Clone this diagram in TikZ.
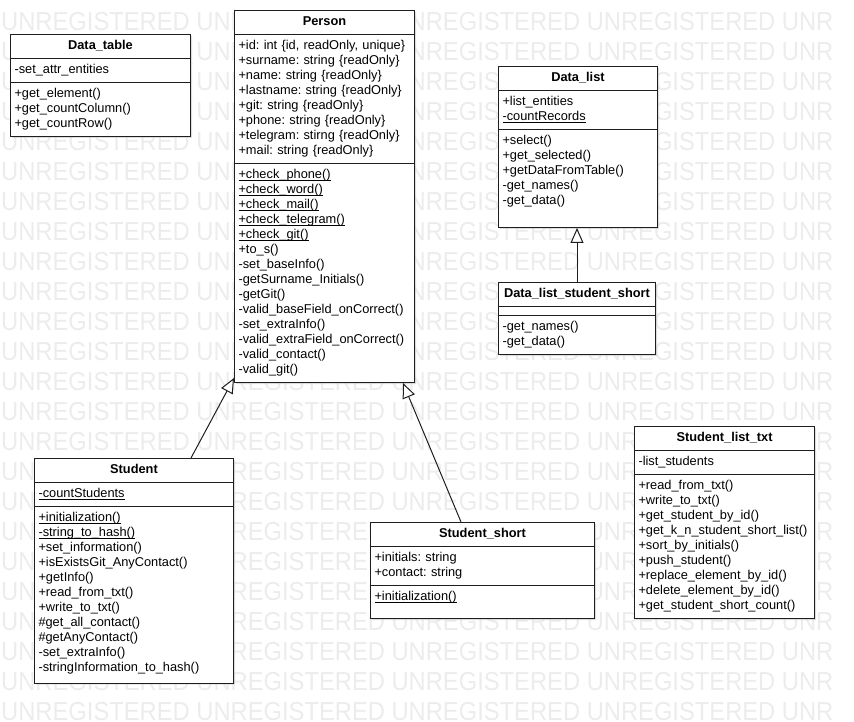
\documentclass[tikz,border=0pt]{standalone}
\usepackage{fontspec}
\setmainfont{Liberation Sans}
\usetikzlibrary{arrows.meta,shapes.multipart,shadows}
\definecolor{umlline}{RGB}{30,30,30}
\definecolor{umlshade}{RGB}{190,190,190}
\definecolor{wmgray}{RGB}{236,236,236}
\newcommand{\umlfont}{\fontsize{12.8}{15}\selectfont\frenchspacing}
\newcommand{\ctitle}[1]{\makebox[\hsize]{\strut\textbf{#1}}}
\newcommand{\padbelow}[1]{\rule[-#1]{0pt}{0pt}}
\newcommand{\stat}[1]{\leavevmode{\setbox0\hbox{#1}\rlap{\rule[-2.2pt]{\wd0}{0.7pt}}\box0}}
\tikzset{
  cls/.style ={rectangle split, rectangle split parts=3, draw=umlline, fill=white,
               line width=1pt, inner xsep=4pt, inner ysep=4pt, align=left,
               anchor=north west, font=\umlfont,
               drop shadow={shadow xshift=1.5pt, shadow yshift=-1.5pt, fill=umlshade}},
  gen/.style ={-{Triangle[open, length=15pt, width=13pt, fill=white]},
               draw=umlline, line width=1pt},
  wm/.style  ={anchor=west, inner sep=0pt, text=wmgray,
               font=\fontsize{26}{26}\selectfont}
}

\begin{document}
\begin{tikzpicture}[x=1pt, y=-1pt]
\useasboundingbox (0,0) rectangle (854,722);
% watermark rows
\foreach \r in {0,...,23}
  \node[wm] (wm\r) at (1,22+30*\r)
    {\scalebox{0.913}[1]{UNREGISTERED UNREGISTERED UNREGISTERED UNREGISTERED UNR}};

% classes
\node[cls, text width=172pt] (dtable) at (10,34)
  {\ctitle{Data\_table}
   \nodepart{two}\strut-set\_attr\_entities\strut
   \nodepart{three}\strut+get\_element()\\+get\_countColumn()\\+get\_countRow()\strut};

\node[cls, text width=172pt] (person) at (234,10)
  {\ctitle{Person}
   \nodepart{two}\strut+id: int \{id, readOnly, unique\}\\
   +surname: string \{readOnly\}\\
   +name: string \{readOnly\}\\
   +lastname: string \{readOnly\}\\
   +git: string \{readOnly\}\\
   +phone: string \{readOnly\}\\
   +telegram: stirng \{readOnly\}\\
   +mail: string \{readOnly\}\strut
   \nodepart{three}\strut\stat{+check\_phone()}\\
   \stat{+check\_word()}\\
   \stat{+check\_mail()}\\
   \stat{+check\_telegram()}\\
   \stat{+check\_git()}\\
   +to\_s()\\
   -set\_baseInfo()\\
   -getSurname\_Initials()\\
   -getGit()\\
   -valid\_baseField\_onCorrect()\\
   -set\_extraInfo()\\
   -valid\_extraField\_onCorrect()\\
   -valid\_contact()\\
   -valid\_git()\strut};

\node[cls, text width=151pt] (dlist) at (498,66)
  {\ctitle{Data\_list}
   \nodepart{two}\strut+list\_entities\\\stat{-countRecords}\strut
   \nodepart{three}\strut+select()\\
   +get\_selected()\\
   +getDataFromTable()\\
   -get\_names()\\
   -get\_data()\padbelow{18.5pt}};

\node[cls, text width=149pt] (dlss) at (498,282)
  {\ctitle{Data\_list\_student\_short}
   \nodepart{two}
   \nodepart{three}\strut-get\_names()\\-get\_data()\strut};

\node[cls, text width=191pt] (student) at (34,458)
  {\ctitle{Student}
   \nodepart{two}\strut\stat{-countStudents}\strut
   \nodepart{three}\strut\stat{+initialization()}\\
   \stat{-string\_to\_hash()}\\
   +set\_information()\\
   +isExistsGit\_AnyContact()\\
   +getInfo()\\
   +read\_from\_txt()\\
   +write\_to\_txt()\\
   \#get\_all\_contact()\\
   \#getAnyContact()\\
   -set\_extraInfo()\\
   -stringInformation\_to\_hash()\padbelow{7pt}};

\node[cls, text width=216pt] (stshort) at (370,522)
  {\ctitle{Student\_short}
   \nodepart{two}\strut+initials: string\\+contact: string\strut
   \nodepart{three}\strut\stat{+initialization()}\padbelow{13.5pt}};

\node[cls, text width=172pt] (stlist) at (634,426)
  {\ctitle{Student\_list\_txt}
   \nodepart{two}\strut-list\_students\strut
   \nodepart{three}\strut+read\_from\_txt()\\
   +write\_to\_txt()\\
   +get\_student\_by\_id()\\
   +get\_k\_n\_student\_short\_list()\\
   +sort\_by\_initials()\\
   +push\_student()\\
   +replace\_element\_by\_id()\\
   +delete\_element\_by\_id()\\
   +get\_student\_short\_count()\strut};

% generalizations
\draw[gen] ([xshift=157pt]student.north west) -- ([yshift=5pt]person.south west);
\draw[gen] ([xshift=91pt]stshort.north west) -- ([xshift=-12pt]person.south east);
\draw[gen] (dlss.north) -- (dlss.north |- dlist.south);
\end{tikzpicture}
\end{document}
